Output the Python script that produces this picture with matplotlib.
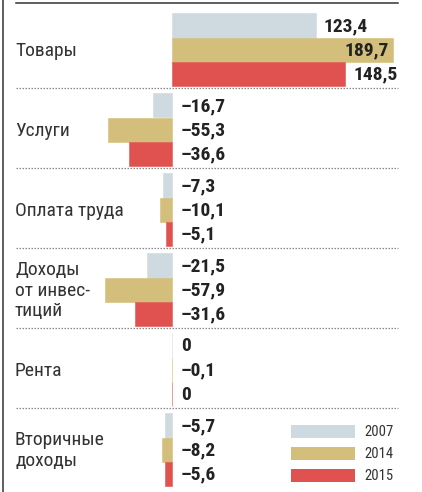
import matplotlib
matplotlib.use("Agg")
import matplotlib.pyplot as plt
from matplotlib.patches import Rectangle

categories = ["Товары", "Услуги", "Оплата труда", "Доходы\nот инвес-\nтиций", "Рента",
              "Вторичные\nдоходы"]
years = ["2007", "2014", "2015"]
v2007 = [123.4, -16.7, -7.3, -21.5, 0.0, -5.7]
v2014 = [189.7, -55.3, -10.1, -57.9, -0.1, -8.2]
v2015 = [148.5, -36.6, -5.1, -31.6, 0.0, -5.6]
colors = ["#cfdae0", "#d3be7b", "#e05250"]

plt.rcParams["font.family"] = ["Roboto Condensed", "DejaVu Sans"]

W, H = 422, 492
fig = plt.figure(figsize=(W / 100, H / 100), dpi=100)
ax = fig.add_axes([0, 0, 1, 1])

# x: value units, 1.165 px per unit, zero at px 172; y: pixel rows
scale = 1.165
x0 = 172
ax.set_xlim(-x0 / scale, (W - x0) / scale)
ax.set_ylim(H, 0)
ax.axis("off")

def px(p):
    return (p - x0) / scale

top0, period, bh = 13.3, 80, 24.2
series = [v2007, v2014, v2015]
for g, cat in enumerate(categories):
    gtop = top0 + g * period
    for s, vals in enumerate(series):
        v = vals[g]
        yc = gtop + bh * (s + 0.5)
        ax.barh(yc, v, height=bh, color=colors[s], edgecolor=colors[s], linewidth=0.4)
        lab = "0" if v == 0 else f"{abs(v):.1f}".replace(".", ",")
        if v < 0:
            lab = "\u2013" + lab
        if v > 170:
            x, ha = v - 4 / scale, "right"
        elif v > 0:
            x, ha = v + 8 / scale, "left"
        else:
            x, ha = 9 / scale, "left"
        ax.text(x, yc + 1, lab, ha=ha, va="center", fontsize=14,
                fontweight="bold", color="#222222")
    ax.text(px(15), gtop + 1.5 * bh + 1, cat, ha="left", va="center", fontsize=14,
            color="#333333", linespacing=1.2)
    if g > 0:
        ax.plot([px(16), px(398)], [gtop - 5, gtop - 5], color="#888888", lw=0.9,
                ls=(0, (1.2, 1.2)))

# top rule and left border
ax.plot([px(16), px(398)], [3, 3], color="#333333", lw=1.1)
ax.plot([px(2.5), px(2.5)], [0, H], color="#333333", lw=1.1)

# legend
for s, yr in enumerate(years):
    ytop = 425 + s * 22
    ax.add_patch(Rectangle((px(291), ytop), 64 / scale, 12.7, color=colors[s], lw=0))
    ax.text(px(364), ytop + 6.5, yr, ha="left", va="center", fontsize=10.5,
            color="#333333")

fig.savefig("out.png", dpi=100)
